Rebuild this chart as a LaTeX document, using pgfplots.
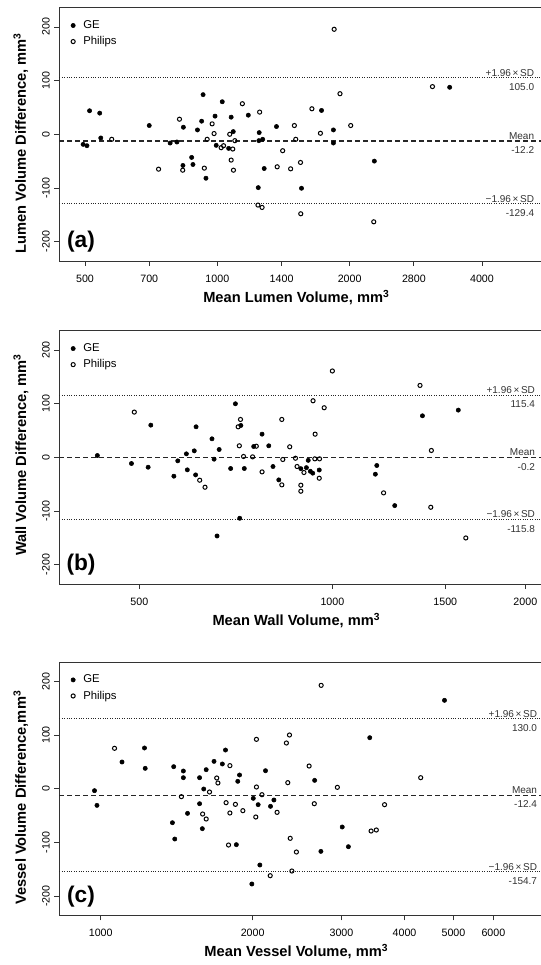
\documentclass[border=0pt]{standalone}
\usepackage{fontspec}
\setmainfont{Liberation Sans}
\usepackage{pgfplots}
\pgfplotsset{compat=1.18}

% 1 px of the reference = 0.75pt
\pgfplotsset{
  ba/.style={
    scale only axis, width=362.7pt, height=190pt,
    xminorticks=false,
    ymin=-236, ymax=236, ytick={-200,-100,0,100,200},
    tick align=outside, xtick pos=bottom, ytick pos=left,
    major tick length=3.75pt,
    axis line style={black!80, line width=0.6pt},
    every tick/.style={black!80, line width=0.6pt},
    tick label style={font=\fontsize{8}{9.6}\selectfont},
    /pgf/number format/assume math mode=true,
    yticklabel style={rotate=90, anchor=south},
    xticklabel style={yshift=-3pt},
    xlabel style={at={(axis description cs:0.49,-0.1637)}, anchor=base,
      font=\bfseries\fontsize{11}{13}\selectfont},
    ylabel style={anchor=base, font=\bfseries\fontsize{11}{13}\selectfont},
    clip=false,
    legend style={at={(axis description cs:0,1)}, anchor=north west,
      xshift=8.5pt, yshift=-8.5pt, draw=none, fill=none,
      font=\fontsize{8.5}{10}\selectfont, inner sep=0pt, row sep=2.5pt,
      column sep=5pt, nodes={inner sep=1pt}},
    legend cell align=left,
    legend image code/.code={\draw[##1] plot coordinates {(0pt,0pt)};},
  },
  ge/.style={only marks, mark=*, mark size=1.6pt, black},
  ph/.style={only marks, mark=o, mark size=1.55pt, black, mark options={line width=0.75pt}},
  meanl/.style={black!85, line width=1.1pt, dash pattern=on 3.75pt off 2.25pt, forget plot},
  sdl/.style={black!85, line width=0.75pt, dash pattern=on 0.6pt off 1.2pt, forget plot},
}
\tikzset{
  ann/.style={font=\fontsize{7.5}{9}\selectfont, text=black!80, inner sep=1pt},
  plab/.style={font=\bfseries\fontsize{17}{17}\selectfont},
}

\begin{document}
\begin{tikzpicture}
\useasboundingbox (0,0) rectangle (405.75pt,-723.75pt);

% ---------------- (a) lumen
\begin{axis}[ba, xmode=log, at={(44.55pt,-5.7pt)}, anchor=north west,
  xmin=437.2, xmax=5507,
  xtick={500,700,1000,1400,2000,2800,4000},
  xticklabels={500,700,1000,1400,2000,2800,4000},
  xlabel={Mean Lumen Volume, mm\textsuperscript{3}},
  ylabel={Lumen Volume Difference, mm\textsuperscript{3}},
  ylabel style={at={(axis description cs:-0.0691,0.465)}},
]
\addplot[ge] table {
x y
495 -18.8
505 -21.3
512 43.8
540 39.4
543 -6.9
700 16.3
781 -16.3
809 -14.4
837 13.1
835 -58.1
874 -43.1
880 -56.3
901 8.1
921 24.4
928 73.8
942 -81.9
988 33.8
994 -20.6
1026 60.6
1061 -26.3
1075 31.9
1087 5.0
1176 35.6
1245 3.1
1243 -11.9
1268 -9.4
1239 -99.4
1278 -63.8
1363 14.4
1554 -100.6
1726 44.4
1837 8.1
1837 -16.3
2276 -50.0
3377 87.5
};
\addlegendentry{GE}
\addplot[ph] table {
x y
575 -9.4
735 -65.0
820 28.1
834 -66.9
934 -63.1
948 -9.4
973 19.4
983 1.3
1020 -25.0
1033 -21.3
1067 0.0
1075 -48.1
1084 -27.5
1088 -66.9
1096 -11.9
1140 56.9
1248 41.3
1237 -131.9
1264 -136.3
1368 -60.6
1408 -30.6
1468 -64.4
1497 16.3
1508 -9.4
1546 -52.5
1548 -148.1
1641 47.5
1716 1.9
1844 195.6
1901 75.6
2011 16.3
2269 -163.1
3086 88.8
};
\addlegendentry{Philips}
\addplot[sdl] coordinates {(437.2,105.0) (5507,105.0)};
\addplot[meanl] coordinates {(437.2,-12.2) (5507,-12.2)};
\addplot[sdl] coordinates {(437.2,-129.4) (5507,-129.4)};
\node[ann, anchor=south east] at (axis cs:5300,105.0) {+1.96\,×\,SD};
\node[ann, anchor=north east, yshift=-3pt] at (axis cs:5300,105.0) {105.0};
\node[ann, anchor=south east] at (axis cs:5300,-12.2) {Mean};
\node[ann, anchor=north east, yshift=-3pt] at (axis cs:5300,-12.2) {-12.2};
\node[ann, anchor=south east] at (axis cs:5300,-129.4) {−1.96\,×\,SD};
\node[ann, anchor=north east, yshift=-3pt] at (axis cs:5300,-129.4) {-129.4};
\node[plab] at (axis description cs:0.0447,0.075) {(a)};
\end{axis}

% ---------------- (b) wall
\begin{axis}[ba, xmode=log, at={(44.55pt,-248pt)}, anchor=north west,
  xmin=375.3, xmax=2131,
  xtick={500,1000,1500,2000},
  xticklabels={500,1000,1500,2000},
  xlabel={Mean Wall Volume, mm\textsuperscript{3}},
  ylabel={Wall Volume Difference, mm\textsuperscript{3}},
  ylabel style={at={(axis description cs:-0.0691,0.51)}},
]
\addplot[ge] table {
x y
430 3.4
486 -11.5
516 -18.4
521 60.0
566 -35.1
574 -6.5
592 6.5
594 -23.3
609 12.1
613 56.9
612 -32.7
649 34.5
654 -3.4
666 14.6
661 -146.5
694 -20.8
706 99.8
720 59.4
717 -113.5
729 -20.8
754 20.2
777 43.2
796 21.5
808 -17.1
825 -42.0
893 -21.1
911 -19.2
917 -5.6
924 -26.0
932 -29.5
954 -23.6
1167 -31.4
1173 -15.2
1251 -89.9
1382 77.4
1572 88.0
};
\addlegendentry{GE}
\addplot[ph] table {
x y
491 84.3
621 -42.6
633 -55.7
713 56.9
719 70.6
716 21.5
727 1.6
751 0.9
761 20.8
777 -27.1
834 70.6
837 -4.0
834 -51.3
858 19.6
876 -1.6
881 -17.1
893 -51.9
893 -63.1
903 -28.3
933 105.4
940 43.2
939 -2.8
955 -2.8
954 -38.9
971 92.4
1000 160.9
1202 -66.2
1370 134.0
1427 12.8
1424 -93.0
1615 -150.2
};
\addlegendentry{Philips}
\addplot[sdl] coordinates {(375.3,115.4) (2131,115.4)};
\addplot[meanl] coordinates {(375.3,-0.2) (2131,-0.2)};
\addplot[sdl] coordinates {(375.3,-115.8) (2131,-115.8)};
\node[ann, anchor=south east] at (axis cs:2082,115.4) {+1.96\,×\,SD};
\node[ann, anchor=north east, yshift=-3pt] at (axis cs:2082,115.4) {115.4};
\node[ann, anchor=south east] at (axis cs:2082,-0.2) {Mean};
\node[ann, anchor=north east, yshift=-3pt] at (axis cs:2082,-0.2) {-0.2};
\node[ann, anchor=south east] at (axis cs:2082,-115.8) {−1.96\,×\,SD};
\node[ann, anchor=north east, yshift=-3pt] at (axis cs:2082,-115.8) {-115.8};
\node[plab] at (axis description cs:0.0447,0.075) {(b)};
\end{axis}

% ---------------- (c) vessel
\begin{axis}[ba, xmode=log, at={(44.55pt,-496.5pt)}, anchor=north west,
  xmin=828.2, xmax=7525,
  xtick={1000,2000,3000,4000,5000,6000},
  xticklabels={1000,2000,3000,4000,5000,6000},
  xlabel={Mean Vessel Volume, mm\textsuperscript{3}},
  ylabel={Vessel Volume Difference,mm\textsuperscript{3}},
  ylabel style={at={(axis description cs:-0.0691,0.465)}},
]
\addplot[ge] table {
x y
972 -3.7
983 -31.1
1102 49.7
1221 75.8
1225 37.9
1387 -63.4
1395 41.0
1402 -93.8
1458 32.9
1458 20.5
1486 -46.0
1570 20.5
1570 -28.0
1600 -0.6
1590 -74.5
1618 35.4
1677 50.9
1742 46.0
1767 72.0
1869 13.7
1884 25.5
1857 -104.3
2006 -18.0
2051 -29.8
2067 -142.2
1993 -177.6
2121 33.5
2170 -32.9
2204 -21.1
2654 15.5
2731 -116.8
3010 -71.4
3096 -108.1
3413 95.0
4800 164.6
};
\addlegendentry{GE}
\addplot[ph] table {
x y
1065 75.2
1445 -14.9
1592 -47.2
1618 -56.5
1643 -6.2
1698 19.9
1707 10.6
1772 -26.1
1792 -105.0
1803 42.9
1803 -45.3
1849 -29.2
1913 -41.0
2029 -52.8
2035 91.9
2035 3.1
2087 -11.2
2167 -162.1
2236 -44.1
2333 85.1
2348 11.2
2366 100.0
2374 -92.5
2392 -153.4
2442 -118.0
2588 42.2
2650 -28.0
2734 192.5
2944 2.5
3434 -78.9
3517 -77.0
3652 -29.8
4306 20.5
};
\addlegendentry{Philips}
\addplot[sdl] coordinates {(828.2,130.0) (7525,130.0)};
\addplot[meanl] coordinates {(828.2,-12.4) (7525,-12.4)};
\addplot[sdl] coordinates {(828.2,-154.7) (7525,-154.7)};
\node[ann, anchor=south east] at (axis cs:7376,130.0) {+1.96\,×\,SD};
\node[ann, anchor=north east, yshift=-3pt] at (axis cs:7376,130.0) {130.0};
\node[ann, anchor=south east] at (axis cs:7376,-12.4) {Mean};
\node[ann, anchor=north east, yshift=-3pt] at (axis cs:7376,-12.4) {-12.4};
\node[ann, anchor=south east] at (axis cs:7376,-154.7) {−1.96\,×\,SD};
\node[ann, anchor=north east, yshift=-3pt] at (axis cs:7376,-154.7) {-154.7};
\node[plab] at (axis description cs:0.0447,0.075) {(c)};
\end{axis}
\end{tikzpicture}
\end{document}
